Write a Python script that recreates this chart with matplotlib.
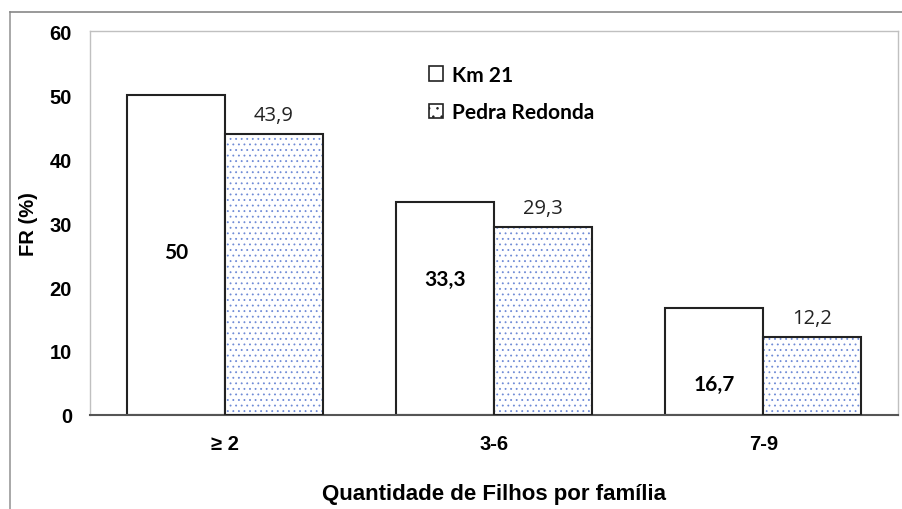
from matplotlib import pyplot as plt
from matplotlib.lines import Line2D
import matplotlib.patches as mpatches
import numpy as np

categories = ["≥ 2", "3-6", "7-9"]
km21 = [50, 33.3, 16.7]
pedra = [43.9, 29.3, 12.2]
km21_labels = ["50", "33,3", "16,7"]
pedra_labels = ["43,9", "29,3", "12,2"]
km21_label_y = [25.5, 21.3, 4.8]

plt.rcParams['font.family'] = ['Liberation Sans', 'DejaVu Sans']
plt.rcParams['hatch.linewidth'] = 0.6

fig = plt.figure(figsize=(9.03, 5.10), dpi=100)
ax = fig.add_axes([90/903, 1-416/510, 808/903, 384/510])

x = np.arange(len(categories))
w = 0.364
ax.bar(x - w/2, km21, w, color="white", edgecolor="#222222", linewidth=1.5, zorder=2)
ax.bar(x + w/2, pedra, w, color="white", edgecolor="#6f8bd6", hatch="...", linewidth=0, zorder=2)
ax.bar(x + w/2, pedra, w, color="none", edgecolor="#222222", linewidth=1.5, zorder=3)

for i in range(len(categories)):
    ax.text(x[i] - w/2, km21_label_y[i], km21_labels[i], ha="center", va="center",
            fontsize=15, fontweight="bold", family=["Lato", "DejaVu Sans"])
    ax.text(x[i] + w/2, pedra[i] + 3.0, pedra_labels[i], ha="center", va="center",
            fontsize=14.5, family=["Open Sans", "DejaVu Sans"], color="#222222")

ax.set_xlim(-0.5, 2.5)
ax.set_ylim(0, 60)
ax.set_yticks(range(0, 61, 10))
ax.set_xticks(x)
ax.set_xticklabels(categories)
ax.tick_params(length=0, labelsize=14.5)
ax.tick_params(axis="y", pad=13)
ax.tick_params(axis="x", pad=14)
for lab in ax.get_xticklabels() + ax.get_yticklabels():
    lab.set_fontweight("bold")
for s in ["left", "top", "right"]:
    ax.spines[s].set_color("#c0c0c0")
    ax.spines[s].set_linewidth(1)
ax.spines["bottom"].set_color("#555555")
ax.spines["bottom"].set_linewidth(1.5)

ax.set_ylabel("FR (%)", fontsize=14.5, fontweight="bold")
ax.yaxis.set_label_coords(-52/808, 0.5)
fig.text(494/903, 1-495/510, "Quantidade de Filhos por família", ha="center", va="center",
         fontsize=16, fontweight="bold")

# outer frame
fig.add_artist(Line2D([10/903, 10/903], [0, 1-13/510], color="#999999", lw=1.2))
fig.add_artist(Line2D([10/903, 1], [1-13/510, 1-13/510], color="#888888", lw=1.2))

h1 = mpatches.Patch(facecolor="white", edgecolor="#222222", linewidth=1.2)
h2 = mpatches.Patch(facecolor="white", edgecolor="#6f8bd6", hatch="..", linewidth=1.2)
leg = ax.legend([h1, h2], ["Km 21", "Pedra Redonda"], loc="upper left",
                bbox_to_anchor=(320/808, 1-15/384), frameon=False,
                prop={"family": ["Lato", "DejaVu Sans"], "weight": "bold", "size": 15},
                handlelength=0.7, handleheight=0.7, handletextpad=0.4, labelspacing=0.85)
leg.legend_handles[1].set_edgecolor("#222222")

fig.savefig("out.png", dpi=100)
